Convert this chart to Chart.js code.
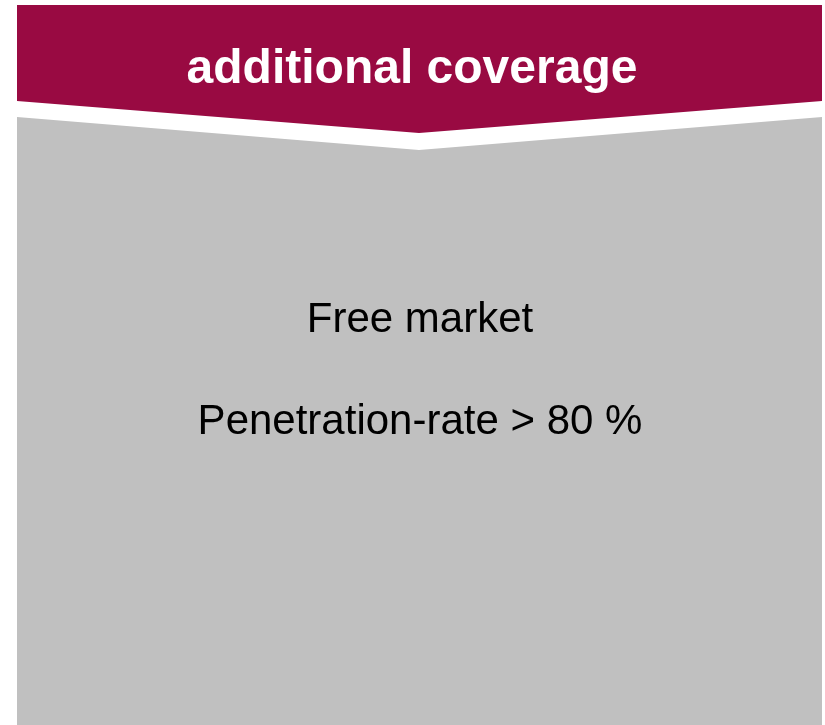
<!DOCTYPE html>
<html>
<head>
<meta charset="utf-8">
<script src="https://cdn.jsdelivr.net/npm/chart.js@4/dist/chart.umd.min.js"></script>
<style>
  html, body { margin: 0; padding: 0; background: #fff; }
  canvas { display: block; }
</style>
</head>
<body>
<canvas id="chart" width="825" height="725"></canvas>
<script>
// outline of the two shapes, sampled at left edge / chevron tip / right edge
const edgeX = [17, 419, 822]
const bannerTop = [5, 5, 5]
const bannerBottom = [101, 133, 101]
const panelTop = [117, 150, 117]
const panelBottom = [725, 725, 725]

const bannerText = 'additional coverage'
const panelLines = ['Free market', 'Penetration-rate > 80 %']

const MAROON = '#990a42'
const GREY = '#c0c0c0'

const toPoints = ys => ys.map((y, i) => ({ x: edgeX[i], y: y }))

function edge(ys, color, fill) {
  return {
    data: toPoints(ys),
    borderWidth: 0,
    borderColor: 'transparent',
    backgroundColor: color,
    pointRadius: 0,
    tension: 0,
    fill: fill
  }
}

// writes the texts using the chart's own scales
const textPlugin = {
  id: 'texts',
  afterDatasetsDraw(chart) {
    const { ctx, scales: { x, y } } = chart
    ctx.save()
    ctx.textAlign = 'center'
    ctx.textBaseline = 'alphabetic'

    ctx.fillStyle = '#ffffff'
    ctx.font = 'bold 48px "Liberation Sans", Arial, sans-serif'
    ctx.fillText(bannerText, x.getPixelForValue(412), y.getPixelForValue(83))

    ctx.fillStyle = '#000000'
    ctx.font = '42px "Liberation Sans", Arial, sans-serif'
    const baselines = [332, 434]
    panelLines.forEach((line, i) => {
      ctx.fillText(line, x.getPixelForValue(420), y.getPixelForValue(baselines[i]))
    })
    ctx.restore()
  }
}

new Chart(document.getElementById('chart'), {
  type: 'line',
  data: {
    datasets: [
      edge(bannerTop, MAROON, false),
      edge(bannerBottom, MAROON, '-1'),
      edge(panelTop, GREY, false),
      edge(panelBottom, GREY, '-1')
    ]
  },
  options: {
    responsive: false,
    animation: false,
    layout: { padding: 0 },
    plugins: {
      legend: { display: false },
      tooltip: { enabled: false }
    },
    scales: {
      x: { type: 'linear', min: 0, max: 825, display: false },
      y: { type: 'linear', min: 0, max: 725, reverse: true, display: false }
    }
  },
  plugins: [textPlugin]
})
</script>
</body>
</html>
